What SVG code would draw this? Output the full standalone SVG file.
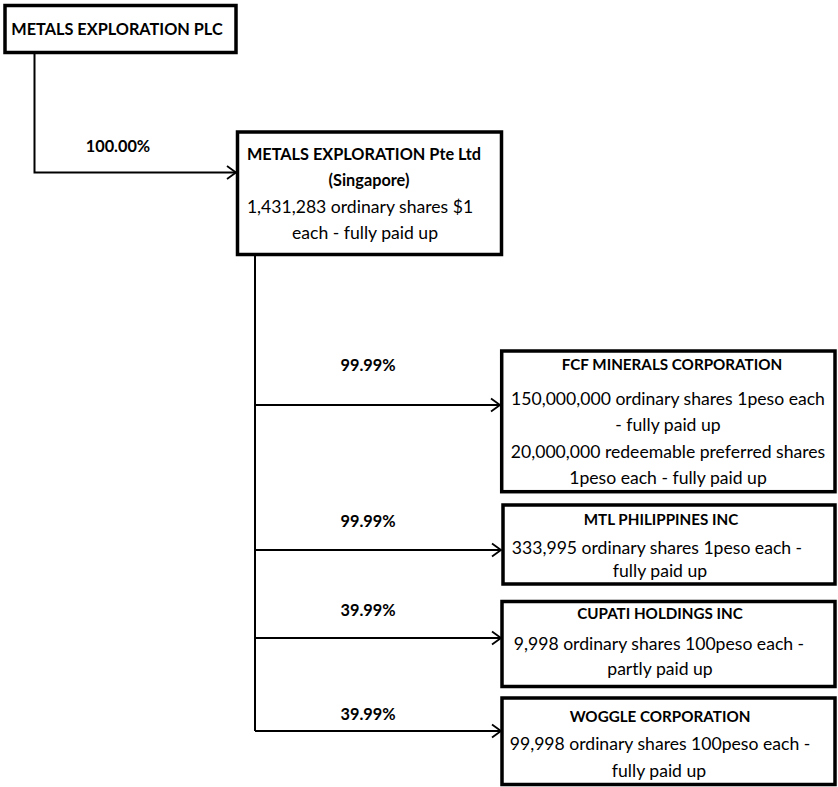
<svg xmlns="http://www.w3.org/2000/svg" width="838" height="787" viewBox="0 0 838 787">
<defs>
<style>
.box{fill:#fff;stroke:#000;stroke-width:3.5}
.ln{fill:none;stroke:#000;stroke-width:2}
text{font-family:Lato,"Liberation Sans",sans-serif;font-size:17.6px;fill:#000;text-anchor:middle}
.b{font-weight:bold;font-size:16.3px}
.t{font-weight:bold;font-size:15.2px}
</style>
<marker id="arr" markerWidth="12" markerHeight="16" refX="10" refY="8" orient="auto" markerUnits="userSpaceOnUse">
<path d="M1,1.5 L10,8 L1,14.5" fill="none" stroke="#000" stroke-width="1.8"/>
</marker>
</defs>
<g id="connectors">
<path class="ln" d="M34.5,54 V172.5 H236" marker-end="url(#arr)"/>
<path class="ln" d="M255,256 V731"/>
<path class="ln" d="M255,405 H500" marker-end="url(#arr)"/>
<path class="ln" d="M255,550 H501" marker-end="url(#arr)"/>
<path class="ln" d="M255,638 H501" marker-end="url(#arr)"/>
<path class="ln" d="M255,731 H501" marker-end="url(#arr)"/>
<text class="b" x="118" y="151.5">100.00%</text>
<text class="b" x="368" y="371">99.99%</text>
<text class="b" x="368" y="527">99.99%</text>
<text class="b" x="368" y="616">39.99%</text>
<text class="b" x="368" y="720">39.99%</text>
</g>
<g id="plc">
<rect class="box" x="5" y="5.5" width="231" height="47"/>
<text class="b" x="117" y="34.5">METALS EXPLORATION PLC</text>
</g>
<g id="pte">
<rect class="box" x="237.5" y="132" width="264" height="122.5"/>
<text class="b" x="364" y="159.5">METALS EXPLORATION Pte Ltd</text>
<text class="b" x="369" y="186">(Singapore)</text>
<text x="360" y="213">1,431,283 ordinary shares $1</text>
<text x="365" y="238.5">each - fully paid up</text>
</g>
<g id="fcf">
<rect class="box" x="501.7" y="351" width="333.3" height="140.7"/>
<text class="t" x="672" y="370">FCF MINERALS CORPORATION</text>
<text x="668" y="405">150,000,000 ordinary shares 1peso each</text>
<text x="668" y="431">- fully paid up</text>
<text x="668" y="458">20,000,000 redeemable preferred shares</text>
<text x="668" y="484">1peso each - fully paid up</text>
</g>
<g id="mtl">
<rect class="box" x="503" y="505" width="332" height="79"/>
<text class="t" x="661" y="525">MTL PHILIPPINES INC</text>
<text x="657" y="554">333,995 ordinary shares 1peso each -</text>
<text x="660" y="577">fully paid up</text>
</g>
<g id="cupati">
<rect class="box" x="502" y="601.5" width="333" height="85"/>
<text class="t" x="660" y="619">CUPATI HOLDINGS INC</text>
<text x="659" y="650">9,998 ordinary shares 100peso each -</text>
<text x="660" y="675">partly paid up</text>
</g>
<g id="woggle">
<rect class="box" x="502" y="698" width="333" height="86.5"/>
<text class="t" x="660" y="721.5">WOGGLE CORPORATION</text>
<text x="660" y="750">99,998 ordinary shares 100peso each -</text>
<text x="659" y="777">fully paid up</text>
</g>
</svg>
